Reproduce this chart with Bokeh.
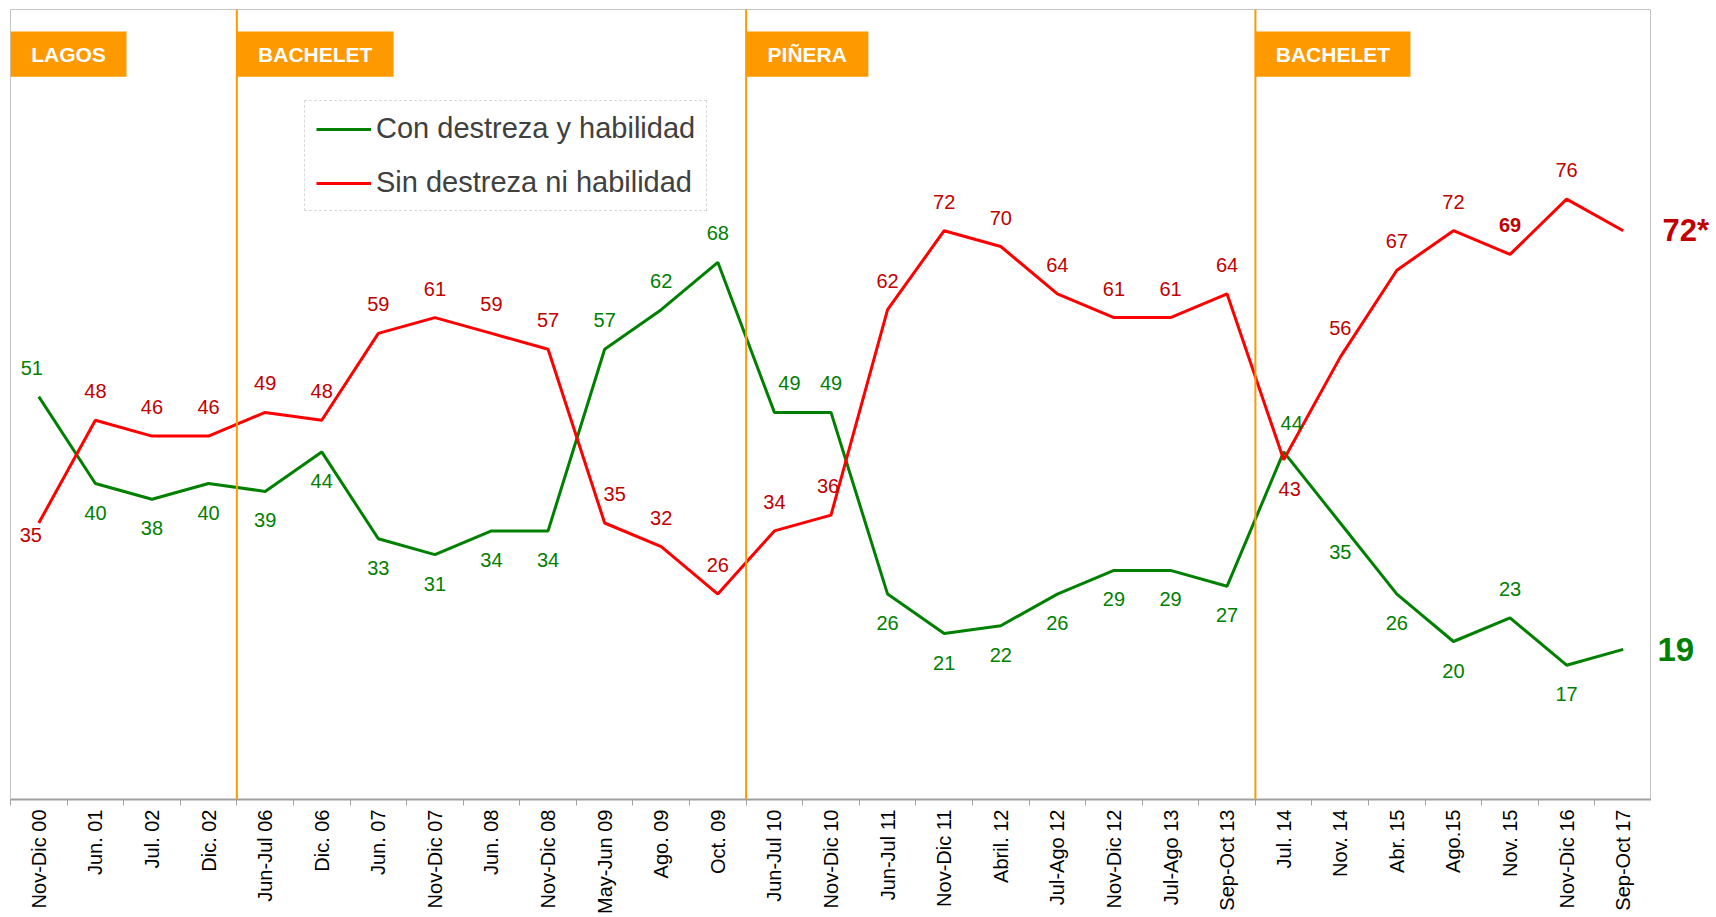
import math
from bokeh.plotting import figure
from bokeh.layouts import row
from bokeh.models import ColumnDataSource, FixedTicker, Span, Legend, LegendItem
from bokeh.core.properties import value
from bokeh.embed import file_html
from bokeh.resources import INLINE

# ---------------- data ----------------
categories = ["Nov-Dic 00", "Jun. 01", "Jul. 02", "Dic. 02", "Jun-Jul 06", "Dic. 06",
              "Jun. 07", "Nov-Dic 07", "Jun. 08", "Nov-Dic 08", "May-Jun 09", "Ago. 09",
              "Oct. 09", "Jun-Jul 10", "Nov-Dic 10", "Jun-Jul 11", "Nov-Dic 11", "Abril. 12",
              "Jul-Ago 12", "Nov-Dic 12", "Jul-Ago 13", "Sep-Oct 13", "Jul. 14", "Nov. 14",
              "Abr. 15", "Ago.15", "Nov. 15", "Nov-Dic 16", "Sep-Oct 17"]
con_destreza = [51, 40, 38, 40, 39, 44, 33, 31, 34, 34, 57, 62, 68, 49, 49, 26, 21, 22,
                26, 29, 29, 27, 44, 35, 26, 20, 23, 17, 19]
sin_destreza = [35, 48, 46, 46, 49, 48, 59, 61, 59, 57, 35, 32, 26, 34, 36, 62, 72, 70,
                64, 61, 61, 64, 43, 56, 67, 72, 69, 76, 72]
series_names = ["Con destreza y habilidad", "Sin destreza ni habilidad"]
periods = ["LAGOS", "BACHELET", "PIÑERA", "BACHELET"]
period_starts = ["Nov-Dic 00", "Jun-Jul 06", "Jun-Jul 10", "Jul. 14"]

# ---------------- styles ----------------
GREEN = "#008000"
RED_LINE = "#FF0000"
RED_TXT = "#C00000"
ORANGE = "#FF9900"
FONT = "Liberation Sans"

# label placement: a = above, b = below, n = near below
green_side = list("abbbbbbbbbaaaaabbbbbbbabbbab")
red_side = list("naaaaaaaaaaaaaaaaaaaaabaaaaa")
green_nudge = {"Nov-Dic 00": -7, "Jun-Jul 10": 15, "Jul. 14": 8}
red_nudge = {"Nov-Dic 00": -8, "May-Jun 09": 10, "Jul. 14": 6, "Nov-Dic 10": -3}
red_bold = ["Nov. 15"]
box_widths = [2.05, 2.77, 2.16, 2.74]   # in category units
OFFS = {"a": -29, "b": 29, "n": 12}

H = 916
TOP = 9
BOTTOM = 113

xs = list(range(len(categories)))
n = len(categories)

p = figure(width=1651, height=H, x_range=(-0.5, n - 0.5), y_range=(0, 100),
           output_backend="svg", toolbar_location=None, y_axis_location=None,
           min_border_left=10, min_border_right=0, min_border_top=TOP, min_border_bottom=BOTTOM)
p.outline_line_color = "#c4c4c4"
p.outline_line_width = 1
p.xgrid.visible = False
p.ygrid.visible = False
p.background_fill_color = "white"

# x axis: labels at category centers, small ticks at boundaries
ax = p.xaxis[0]
ax.ticker = FixedTicker(ticks=xs, minor_ticks=[i - 0.5 for i in range(n + 1)])
ax.major_label_overrides = {i: c for i, c in enumerate(categories)}
ax.major_label_orientation = math.pi / 2
ax.major_tick_line_color = None
ax.major_tick_out = 0
ax.major_tick_in = 0
ax.minor_tick_line_color = "#a0a0a0"
ax.minor_tick_out = 6
ax.minor_tick_in = 0
ax.axis_line_color = "#a0a0a0"
ax.axis_line_width = 2
ax.major_label_standoff = 4
ax.major_label_text_font = FONT
ax.major_label_text_font_size = "20px"
ax.major_label_text_color = "#000000"

# period separators and boxes
for start in period_starts:
    b = categories.index(start) - 0.5
    if b > -0.5:
        p.add_layout(Span(location=b, dimension="height", line_color=ORANGE, line_width=2))
box_left = [categories.index(s) - 0.5 for s in period_starts]
box_right = [l + w for l, w in zip(box_left, box_widths)]
box_src = ColumnDataSource(dict(left=box_left, right=box_right, name=periods,
                                cx=[(l + r) / 2 for l, r in zip(box_left, box_right)]))
p.quad(left="left", right="right", bottom=91.5, top=97.2, source=box_src,
       fill_color=ORANGE, line_color=None)
p.text(x="cx", y=94.35, text="name", source=box_src, text_color="white",
       text_font=value(FONT), text_font_style="bold", text_font_size="21px",
       text_align="center", text_baseline="middle")

# lines
lg = p.line(xs, con_destreza, line_color=GREEN, line_width=3)
lr = p.line(xs, sin_destreza, line_color=RED_LINE, line_width=3)

# data labels
def label_source(vals, sides, nudge, bold):
    d = dict(x=[], y=[], t=[], yo=[], xo=[], st=[])
    for i in range(n - 1):
        d["x"].append(xs[i])
        d["y"].append(vals[i])
        d["t"].append(str(vals[i]))
        d["yo"].append(OFFS[sides[i]])
        d["xo"].append(nudge.get(categories[i], 0))
        d["st"].append("bold" if categories[i] in bold else "normal")
    return ColumnDataSource(d)

for vals, sides, nudge, bold, col in [
        (con_destreza, green_side, green_nudge, [], GREEN),
        (sin_destreza, red_side, red_nudge, red_bold, RED_TXT)]:
    src = label_source(vals, sides, nudge, bold)
    p.text(x="x", y="y", text="t", x_offset="xo", y_offset="yo", source=src,
           text_color=col, text_font=value(FONT), text_font_size="20px",
           text_font_style="st", text_align="center", text_baseline="middle")

legend = Legend(items=[LegendItem(label=series_names[0], renderers=[lg]),
                       LegendItem(label=series_names[1], renderers=[lr])],
                location=(294, 588), orientation="vertical")
legend.label_text_font = FONT
legend.label_text_font_size = "29px"
legend.label_text_color = "#404040"
legend.glyph_width = 55
legend.glyph_height = 30
legend.label_height = 30
legend.label_standoff = 5
legend.spacing = 21
legend.padding = 11
legend.margin = 0
legend.border_line_color = "#b4b4b4"
legend.border_line_dash = "3 2"
legend.border_line_width = 1
legend.background_fill_color = "white"
legend.background_fill_alpha = 1
p.add_layout(legend, "center")

# side panel with end-of-series values
side = figure(width=60, height=H, x_range=(0, 1), y_range=p.y_range,
              output_backend="svg", toolbar_location=None,
              x_axis_location=None, y_axis_location=None,
              min_border_left=0, min_border_right=0, min_border_top=TOP,
              min_border_bottom=H - TOP - 790)
side.outline_line_color = None
side.xgrid.visible = False
side.ygrid.visible = False
side.text(x=[0], y=[sin_destreza[-1]], text=[f"{sin_destreza[-1]}*"], x_offset=11,
          text_color=RED_TXT, text_font=value(FONT), text_font_style="bold",
          text_font_size="31px", text_baseline="middle", text_align="left")
side.text(x=[0], y=[con_destreza[-1]], text=[f"{con_destreza[-1]}"], x_offset=6,
          text_color=GREEN, text_font=value(FONT), text_font_style="bold",
          text_font_size="33px", text_baseline="middle", text_align="left")

layout = row(p, side, spacing=0)
open("out.html", "w").write(file_html(layout, INLINE))
